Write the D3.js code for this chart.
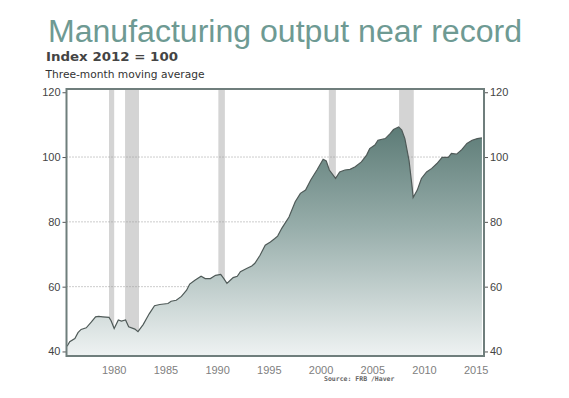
<!DOCTYPE html>
<html>
<head>
<meta charset="utf-8">
<script src="https://cdn.jsdelivr.net/npm/d3@7"></script>
<style>
    body { margin: 0; background: #fff; }
    svg { display: block; }
</style>
</head>
<body>
<script>
// decimal years (mid-point of the label year sits under each label)
let years = [1975.95, 1976.2, 1976.7, 1977.0, 1977.3, 1977.8, 1978.3, 1978.7, 1979.0, 1979.4,
    1980.0, 1980.2, 1980.5, 1980.9, 1981.2, 1981.6, 1981.9, 1982.5, 1982.8, 1983.3,
    1983.9, 1984.4, 1984.9, 1985.7, 1986.0, 1986.5, 1987.0, 1987.5, 1987.8, 1988.3,
    1988.9, 1989.3, 1989.8, 1990.3, 1990.8, 1991.1, 1991.4, 1991.8, 1992.0, 1992.4,
    1992.7, 1993.3, 1993.8, 1994.1, 1994.6, 1995.1, 1995.6, 1996.0, 1996.3, 1996.7,
    1997.4, 1998.0, 1998.5, 1999.0, 1999.5, 2000.1, 2000.7, 2001.0, 2001.3, 2001.9,
    2002.3, 2002.8, 2003.3, 2003.8, 2004.4, 2004.9, 2005.2, 2005.7, 2006.0, 2006.7,
    2007.2, 2007.5, 2008.0, 2008.3, 2008.6, 2009.0, 2009.3, 2009.4, 2009.8, 2010.2,
    2010.7, 2011.2, 2011.7, 2012.2, 2012.8, 2013.1, 2013.6, 2014.1, 2014.6, 2015.1,
    2015.6, 2016.05];

let output = [41.6, 43.0, 44.0, 45.8, 46.8, 47.3, 49.1, 50.7, 50.8, 50.7,
    50.5, 49.5, 47.1, 49.7, 49.4, 49.7, 47.6, 46.9, 46.1, 48.3,
    51.7, 54.1, 54.5, 54.8, 55.5, 55.8, 57.0, 58.9, 60.8, 62.0,
    63.2, 62.5, 62.5, 63.5, 63.8, 62.5, 61.0, 62.2, 62.8, 63.2,
    64.6, 65.6, 66.4, 67.2, 69.7, 72.8, 73.8, 74.8, 75.6, 78.0,
    81.5, 86.2, 88.8, 89.8, 92.9, 96.0, 99.3, 98.8, 96.0, 93.4,
    95.4, 96.0, 96.2, 97.0, 98.5, 100.6, 102.6, 103.7, 105.2, 105.7,
    107.3, 108.5, 109.3, 108.3, 105.7, 99.0, 90.8, 87.5, 89.8, 93.4,
    95.4, 96.5, 98.0, 99.9, 99.9, 101.1, 100.9, 102.3, 104.2, 105.2,
    105.7, 105.9];

let recessionStart = [1980.0, 1981.55, 1990.57, 2001.25, 2008.04];
let recessionEnd = [1980.5, 1982.9, 1991.2, 2001.93, 2009.46];

let yearLabels = [1980, 1985, 1990, 1995, 2000, 2005, 2010, 2015];
let valueTicks = [40, 60, 80, 100, 120];
let gridTicks = [60, 80, 100];

let width = 569, height = 398;
let plot = {left: 66.5, right: 484, top: 89, bottom: 356};

let svg = d3.select("body").append("svg")
    .attr("width", width)
    .attr("height", height);

let x = d3.scaleLinear().domain([1975.89, 2016.25]).range([plot.left, plot.right]);
let y = d3.scaleLinear().domain([38.6, 121]).range([plot.bottom, plot.top]);

let data = years.map((d, i) => { return {year: d, value: output[i]}; });

// fill gradient, dark at the top fading to near white
let grad = svg.append("defs").append("linearGradient")
    .attr("id", "fill")
    .attr("gradientUnits", "userSpaceOnUse")
    .attr("x1", 0).attr("x2", 0)
    .attr("y1", y(110)).attr("y2", y(39));
grad.append("stop").attr("offset", "0%").attr("stop-color", "#5b7a75");
grad.append("stop").attr("offset", "45%").attr("stop-color", "#98aeab");
grad.append("stop").attr("offset", "100%").attr("stop-color", "#eef2f2");

// titles
svg.append("text")
    .attr("x", 48).attr("y", 42)
    .style("font-family", "Liberation Sans, Arial, sans-serif")
    .style("font-size", "31px")
    .attr("textLength", 474)
    .attr("lengthAdjust", "spacingAndGlyphs")
    .attr("fill", "#6e9a93")
    .text("Manufacturing output near record");

svg.append("text")
    .attr("x", 46).attr("y", 60.5)
    .style("font-family", "DejaVu Sans, Verdana, sans-serif")
    .style("font-size", "12.5px")
    .style("font-weight", "bold")
    .attr("textLength", 132)
    .attr("lengthAdjust", "spacingAndGlyphs")
    .attr("fill", "#444")
    .text("Index 2012 = 100");

svg.append("text")
    .attr("x", 45.5).attr("y", 77.5)
    .style("font-family", "DejaVu Sans, Verdana, sans-serif")
    .style("font-size", "10.5px")
    .attr("textLength", 159)
    .attr("lengthAdjust", "spacingAndGlyphs")
    .attr("fill", "#333")
    .text("Three-month moving average");

// recession bands
svg.selectAll("rect.recession")
    .data(recessionStart)
    .enter().append("rect")
    .attr("class", "recession")
    .attr("x", (d) => { return x(d); })
    .attr("y", plot.top)
    .attr("width", (d, i) => { return x(recessionEnd[i]) - x(d); })
    .attr("height", plot.bottom - plot.top)
    .attr("fill", "#d4d4d4");

// dotted gridlines
svg.selectAll("line.grid")
    .data(gridTicks)
    .enter().append("line")
    .attr("class", "grid")
    .attr("x1", plot.left).attr("x2", plot.right)
    .attr("y1", (d) => { return y(d); })
    .attr("y2", (d) => { return y(d); })
    .attr("stroke", "#999")
    .attr("stroke-width", 1)
    .attr("stroke-dasharray", "1,2");

let area = d3.area()
    .x((d) => { return x(d.year); })
    .y0(plot.bottom)
    .y1((d) => { return y(d.value); });

let line = d3.line()
    .x((d) => { return x(d.year); })
    .y((d) => { return y(d.value); });

svg.append("path")
    .datum(data)
    .attr("d", area)
    .attr("fill", "url(#fill)");

svg.append("path")
    .datum(data)
    .attr("d", line)
    .attr("fill", "none")
    .attr("stroke", "#4f5a58")
    .attr("stroke-width", 1.2);

// left and right value axes
let leftAxis = d3.axisLeft(y).tickValues(valueTicks).tickSize(4).tickPadding(2);
let rightAxis = d3.axisRight(y).tickValues(valueTicks).tickSize(4).tickPadding(2);

let gl = svg.append("g").attr("transform", "translate(" + plot.left + ",0)").call(leftAxis);
let gr = svg.append("g").attr("transform", "translate(" + plot.right + ",0)").call(rightAxis);

[gl, gr].forEach((g) => {
    g.select(".domain").remove();
    g.selectAll(".tick line").attr("stroke", "#555");
    g.selectAll(".tick text")
        .style("font-family", "Liberation Sans, Arial, sans-serif")
        .style("font-size", "11px")
        .attr("fill", "#444");
});

// year labels under the plot
svg.selectAll("text.year")
    .data(yearLabels)
    .enter().append("text")
    .attr("class", "year")
    .attr("x", (d) => { return x(d + 0.5); })
    .attr("y", 374)
    .attr("text-anchor", "middle")
    .style("font-family", "Liberation Sans, Arial, sans-serif")
    .style("font-size", "11px")
    .attr("fill", "#808080")
    .text((d) => { return d; });

// frame
svg.append("rect")
    .attr("x", plot.left).attr("y", plot.top)
    .attr("width", plot.right - plot.left)
    .attr("height", plot.bottom - plot.top)
    .attr("fill", "none")
    .attr("stroke", "#6f7e7c")
    .attr("stroke-width", 2);

svg.append("text")
    .attr("x", 324).attr("y", 381)
    .style("font-family", "DejaVu Sans Mono, monospace")
    .style("font-size", "6.5px")
    .style("font-weight", "bold")
    .attr("fill", "#666")
    .text("Source: FRB /Haver");
</script>
</body>
</html>
